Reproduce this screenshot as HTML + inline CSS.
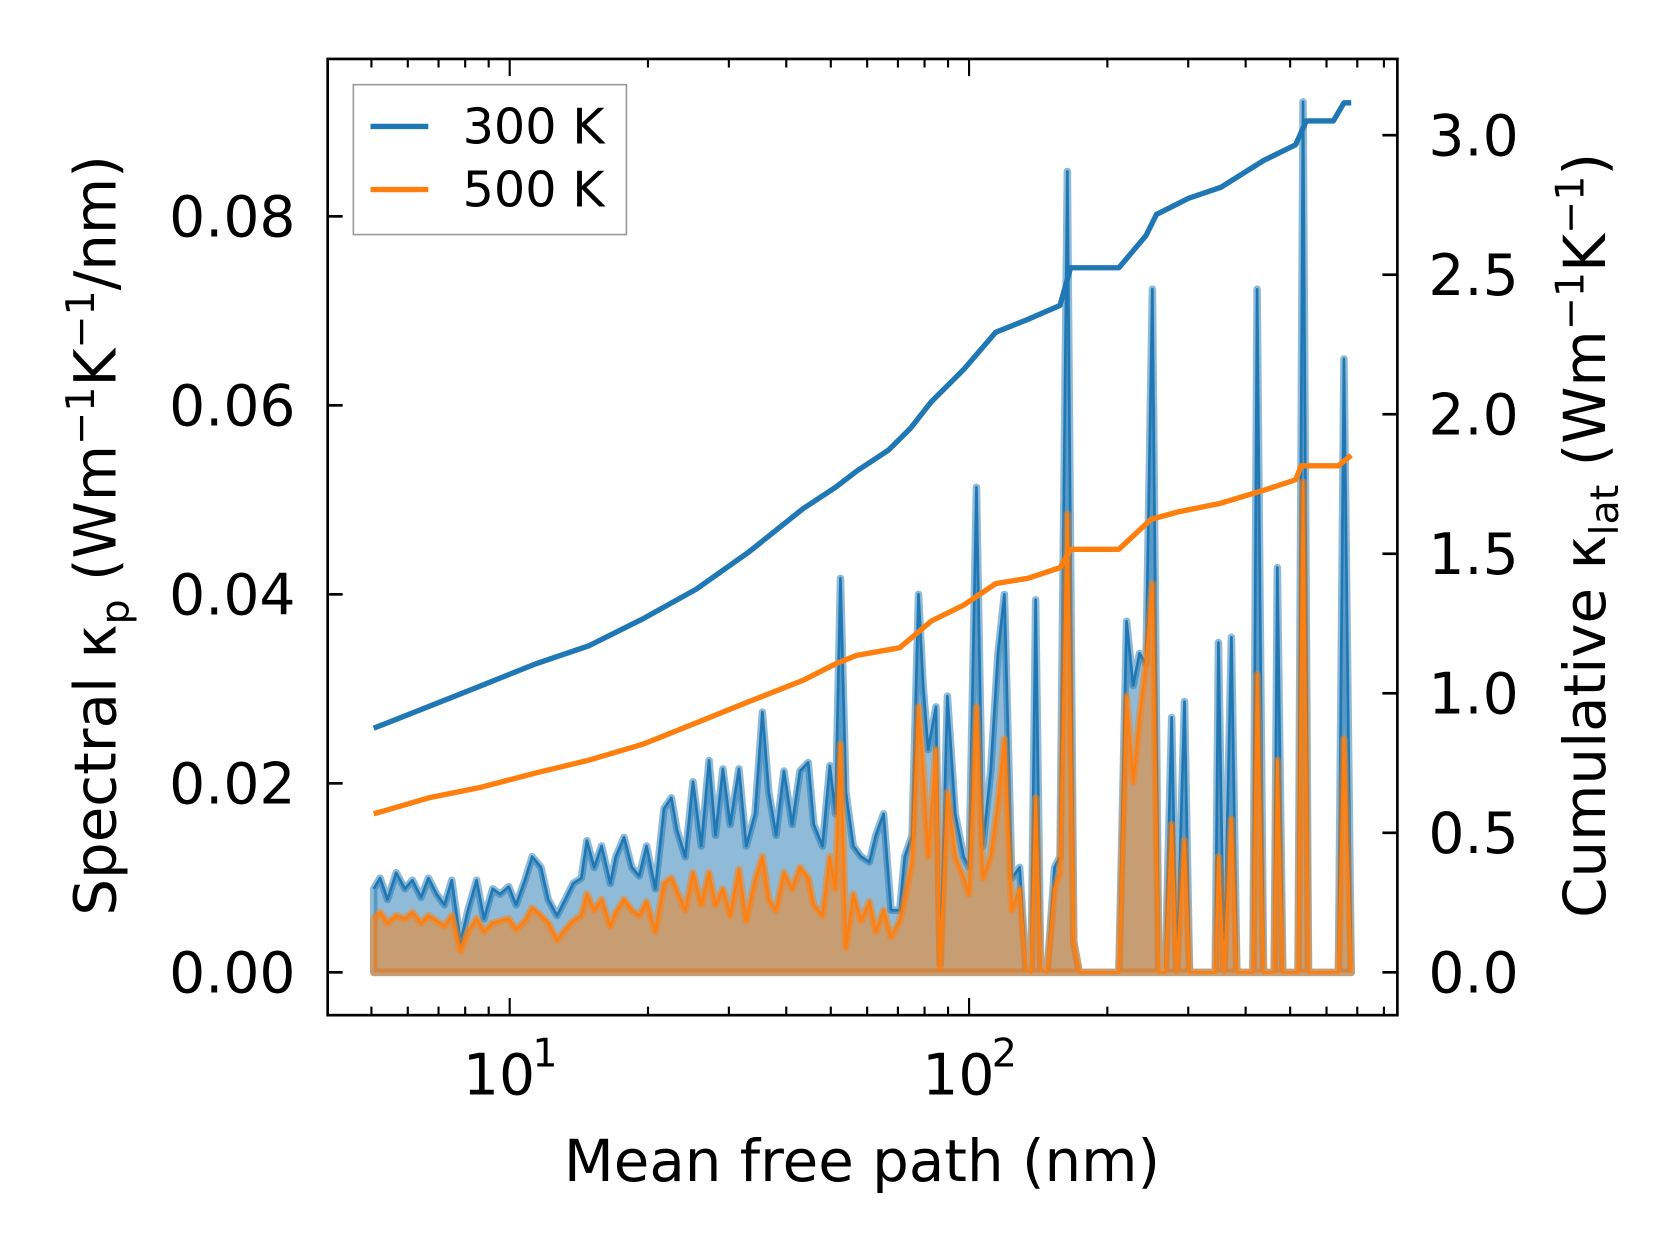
<!DOCTYPE html>
<html><head><meta charset="utf-8"><style>
html,body{margin:0;padding:0;background:#fff}
body{position:relative}
svg{display:block}
text{font-family:"DejaVu Sans","Liberation Sans",sans-serif;fill:#000}
</style></head><body>
<svg id="chart" width="1679" height="1254" viewBox="0 0 1568 1171" xmlns="http://www.w3.org/2000/svg">
<rect width="1568" height="1171" fill="#fff"/>
<defs><clipPath id="clip"><rect x="306" y="55" width="999" height="893"/></clipPath></defs>
<g id="marks" clip-path="url(#clip)"></g>
<g id="axes"></g>
</svg>
<script>
// spectral data (log10 of mean free path in nm; kappa in 1e-3 W m^-1 K^-1 / nm)
const specLogMfp=[0.704,0.718,0.734,0.753,0.772,0.788,0.807,0.823,0.841,0.858,0.874,0.893,0.909,0.928,0.944,0.963,0.979,0.998,1.014,1.033,1.049,1.068,1.084,1.103,1.121,1.138,1.156,1.168,1.184,1.200,1.219,1.231,1.249,1.266,1.282,1.298,1.317,1.336,1.352,1.364,1.382,1.399,1.417,1.434,1.448,1.464,1.480,1.499,1.515,1.534,1.550,1.564,1.580,1.597,1.615,1.632,1.650,1.662,1.681,1.697,1.709,1.720,1.732,1.748,1.765,1.783,1.797,1.814,1.830,1.849,1.860,1.876,1.890,1.900,1.911,1.928,1.937,1.953,1.970,1.988,2.000,2.016,2.030,2.047,2.063,2.077,2.093,2.110,2.124,2.135,2.145,2.156,2.170,2.186,2.198,2.214,2.228,2.240,2.326,2.343,2.357,2.371,2.385,2.399,2.413,2.427,2.441,2.452,2.469,2.480,2.536,2.543,2.555,2.571,2.583,2.618,2.627,2.641,2.664,2.671,2.683,2.716,2.727,2.739,2.804,2.816,2.832];
const spec300=[8.84,9.97,7.70,10.54,8.84,9.74,7.93,9.97,8.27,7.14,9.74,3.17,6.57,9.74,5.67,8.84,8.27,9.06,7.14,9.74,12.24,11.10,7.70,6.00,7.70,9.40,9.97,13.94,11.10,13.37,9.40,12.24,14.28,11.10,10.20,13.37,8.84,17.33,18.47,15.07,12.24,20.17,13.37,22.43,14.50,21.53,15.64,21.53,13.37,16.77,27.53,19.03,14.50,21.30,15.64,21.30,22.21,15.64,13.37,21.87,16.77,41.69,19.03,13.37,12.24,11.67,14.50,16.77,6.57,6.57,12.24,14.50,40.0,30.36,23.57,28.10,0.91,29.23,16.77,12.24,11.10,51.32,13.37,21.30,33.76,40.0,9.97,11.10,0.34,0,39.43,0.34,0,11.10,12.24,84.75,3.17,0,0,37.16,30.36,33.76,32.63,72.29,0,0,26.97,0,28.66,0,0,34.90,0,35.46,0,0,72.29,0,0,42.83,0,0,92.11,0,0,64.92,0];
const spec500=[5.67,6.34,5.21,6.00,5.67,6.34,5.21,6.00,5.44,4.87,6.00,2.27,4.31,5.67,4.31,5.21,5.44,5.67,4.53,5.44,6.80,6.00,5.21,3.40,4.53,5.44,6.00,8.27,6.57,7.70,4.87,6.34,7.70,6.57,6.00,7.48,4.31,9.40,9.97,8.61,6.57,10.54,7.14,10.54,7.14,8.84,6.00,10.88,5.44,9.74,12.24,7.70,6.57,10.54,8.84,11.10,9.97,7.14,6.00,12.24,8.84,24.13,2.61,8.27,5.44,7.48,4.31,6.57,3.74,5.44,7.70,11.67,28.10,21.30,12.24,23.57,0.34,19.03,12.24,9.97,8.27,28.10,9.97,12.24,17.90,24.70,6.57,8.84,0.34,0,18.47,0.34,0,8.84,10.54,48.49,3.17,0,0,29.23,20.17,26.97,32.63,41.13,0,0,15.64,0,13.94,0,0,12.24,0,16.20,0,0,31.50,0,0,22.43,0,0,51.89,0,0,24.70,0];
// cumulative data (W m^-1 K^-1)
const cum300LogMfp=[0.704,0.823,0.939,1.056,1.172,1.289,1.406,1.522,1.639,1.709,1.755,1.825,1.872,1.918,1.988,2.058,2.128,2.198,2.221,2.326,2.385,2.408,2.478,2.548,2.641,2.711,2.734,2.793,2.816,2.832];
const cum300=[0.875,0.952,1.028,1.105,1.17,1.266,1.373,1.508,1.662,1.738,1.796,1.872,1.949,2.045,2.16,2.294,2.34,2.39,2.525,2.525,2.64,2.716,2.774,2.813,2.909,2.966,3.051,3.051,3.116,3.116];
const cum500LogMfp=[0.704,0.823,0.939,1.056,1.172,1.289,1.406,1.522,1.639,1.709,1.755,1.849,1.918,1.988,2.058,2.128,2.198,2.221,2.326,2.396,2.455,2.548,2.641,2.711,2.723,2.804,2.832];
const cum500=[0.568,0.625,0.664,0.714,0.760,0.817,0.894,0.971,1.047,1.105,1.136,1.163,1.259,1.316,1.393,1.412,1.45,1.516,1.516,1.623,1.65,1.681,1.727,1.765,1.815,1.815,1.853];
const leftTicks=[0,0.02,0.04,0.06,0.08];
const leftTickLabels=["0.00","0.02","0.04","0.06","0.08"];
const rightTicks=[0,0.5,1,1.5,2,2.5,3];
const rightTickLabels=["0.0","0.5","1.0","1.5","2.0","2.5","3.0"];

const NS="http://www.w3.org/2000/svg";
const L=306,R=1305,T=55,B=948;
const xs=lg=>476+(lg-1)*429;
const yl=v=>908-v/0.02*176.5;
const yr=v=>908-v/0.5*130.3;
function mk(tag,attrs,parent){const e=document.createElementNS(NS,tag);for(const k in attrs)e.setAttribute(k,attrs[k]);parent.appendChild(e);return e;}
const marks=document.getElementById('marks'),axes=document.getElementById('axes');

function spectral(vals,color,name){
  const pts=specLogMfp.map((lg,i)=>xs(lg).toFixed(1)+','+yl(vals[i]/1000).toFixed(1));
  const x0=xs(specLogMfp[0]),x1=xs(specLogMfp[specLogMfp.length-1]);
  const area=mk('path',{d:'M'+x0+','+yl(0)+' L'+pts.join(' L')+' L'+x1+','+yl(0)+' Z',fill:color,'fill-opacity':0.5,stroke:color,'stroke-opacity':0.5,'stroke-width':7,'stroke-linejoin':'round'},marks);
  
  
  const line=mk('polyline',{points:pts.join(' '),fill:'none',stroke:color,'stroke-width':2.5,'stroke-linejoin':'round'},marks);
  
  
}
spectral(spec300,'#1f77b4','spectral-300k');
spectral(spec500,'#ff7f0e','spectral-500k');
function cum(lgs,vals,color,name){
  const p=mk('polyline',{points:lgs.map((lg,i)=>xs(lg).toFixed(1)+','+yr(vals[i]).toFixed(1)).join(' '),fill:'none',stroke:color,'stroke-width':5,'stroke-linejoin':'round'},marks);
  
  
}
cum(cum300LogMfp,cum300,'#1f77b4','cumulative-300k-line');
cum(cum500LogMfp,cum500,'#ff7f0e','cumulative-500k-line');

const fr=mk('rect',{x:L,y:T,width:R-L,height:B-T,fill:'none',stroke:'#000','stroke-width':2.5},axes);


leftTicks.forEach((v,i)=>{const y=yl(v);
  mk('line',{x1:L,x2:L+14,y1:y,y2:y,stroke:'#000','stroke-width':2.5},axes);
  const t=mk('text',{x:276,y:y+19,'text-anchor':'end','font-size':53},axes);t.textContent=leftTickLabels[i];
  
  
});
rightTicks.forEach((v,i)=>{const y=yr(v);
  mk('line',{x1:R-14,x2:R,y1:y,y2:y,stroke:'#000','stroke-width':2.5},axes);
  const t=mk('text',{x:1334,y:y+19,'font-size':53},axes);t.textContent=rightTickLabels[i];
  
  
});
for(let d=0;d<3;d++){for(let m=1;m<10;m++){const val=m*Math.pow(10,d);const lg=Math.log10(val);const x=xs(lg);
  if(x<L||x>R)continue;const len=m===1?16:8;
  mk('line',{x1:x,x2:x,y1:B,y2:B-len,stroke:'#000','stroke-width':2},axes);
  mk('line',{x1:x,x2:x,y1:T,y2:T+len,stroke:'#000','stroke-width':2},axes);
}}
[[1,'1'],[2,'2']].forEach(([lg,s])=>{const x=xs(lg);
  const t=mk('text',{x:x-10,y:1022,'text-anchor':'middle','font-size':53},axes);t.textContent='10';
  
  
  const e=mk('text',{x:x+33,y:996,'text-anchor':'middle','font-size':37},axes);e.textContent=s;
  
  
});
</script>
<svg style="position:absolute;left:0;top:0" width="1679" height="1254" viewBox="0 0 1568 1171" xmlns="http://www.w3.org/2000/svg">
<text x="805" y="1103" text-anchor="middle" font-size="54">Mean free path (nm)</text>
<text transform="translate(108,500) rotate(-90)" text-anchor="middle" font-size="54">Spectral κ<tspan font-size="37" dy="12">p</tspan><tspan dy="-12"> (Wm</tspan><tspan font-size="37" dy="-20">−1</tspan><tspan dy="20">K</tspan><tspan font-size="37" dy="-20">−1</tspan><tspan dy="20">/nm)</tspan></text>
<text transform="translate(1499,500) rotate(-90)" text-anchor="middle" font-size="54">Cumulative κ<tspan font-size="37" dy="12">lat</tspan><tspan dy="-12"> (Wm</tspan><tspan font-size="37" dy="-20">−1</tspan><tspan dy="20">K</tspan><tspan font-size="37" dy="-20">−1</tspan><tspan dy="20">)</tspan></text>
<g>
<rect x="330" y="79" width="255" height="140" fill="#fff" fill-opacity="0.8" stroke="#999" stroke-width="1.5"/>
<line x1="346" x2="400" y1="118" y2="118" stroke="#1f77b4" stroke-width="5"/>
<text x="432" y="134" font-size="46">300 K</text>
<line x1="346" x2="400" y1="177" y2="177" stroke="#ff7f0e" stroke-width="5"/>
<text x="432" y="193" font-size="46">500 K</text>
</g>
</svg>
</body></html>
